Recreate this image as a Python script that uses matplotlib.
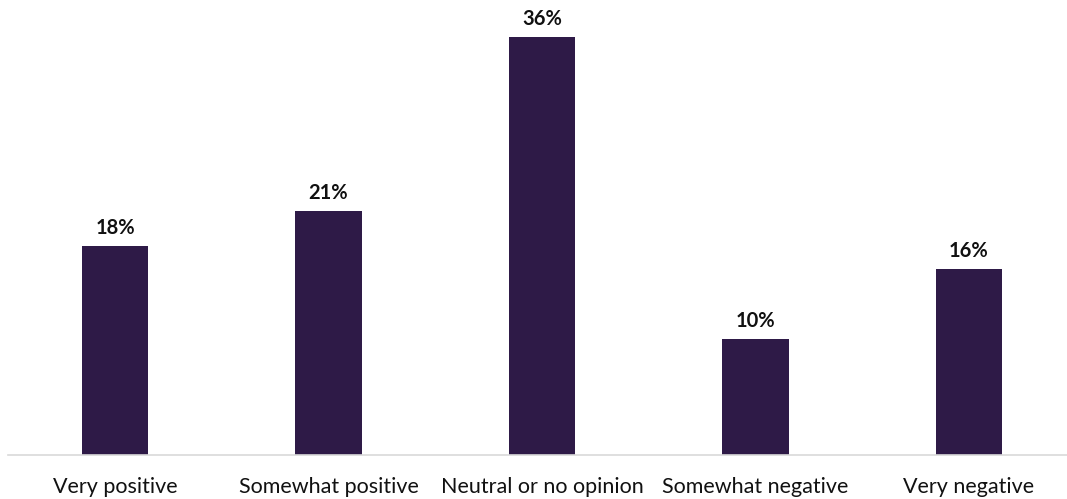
import matplotlib.pyplot as plt

categories = ['Very positive', 'Somewhat positive', 'Neutral or no opinion',
              'Somewhat negative', 'Very negative']
values = [18, 21, 36, 10, 16]
labels = ['18%', '21%', '36%', '10%', '16%']

plt.rcParams['font.family'] = ['Lato', 'DejaVu Sans']

fig = plt.figure(figsize=(10.67, 4.99), dpi=100)
ax = fig.add_axes([8.25 / 1067, 44 / 499, 1067.5 / 1067, 455 / 499])

x = range(len(categories))
bars = ax.bar(x, values, width=0.31, color='#2e1a47')

for b, lab in zip(bars, labels):
    ax.text(b.get_x() + b.get_width() / 2, b.get_height() + 0.7, lab,
            ha='center', va='bottom', fontsize=14.5, fontweight='bold', color='#111111')

ax.set_xlim(-0.5, 4.5)
ax.set_ylim(0, 39.2)
ax.set_xticks(list(x))
ax.set_xticklabels(categories, fontsize=15.5, color='#111111')
ax.tick_params(axis='x', length=0, pad=16)
ax.set_yticks([])
for s in ['top', 'right', 'left']:
    ax.spines[s].set_visible(False)
ax.spines['bottom'].set_color('#d9d9d9')
ax.spines['bottom'].set_linewidth(1.2)

fig.savefig('out.png', dpi=100)
